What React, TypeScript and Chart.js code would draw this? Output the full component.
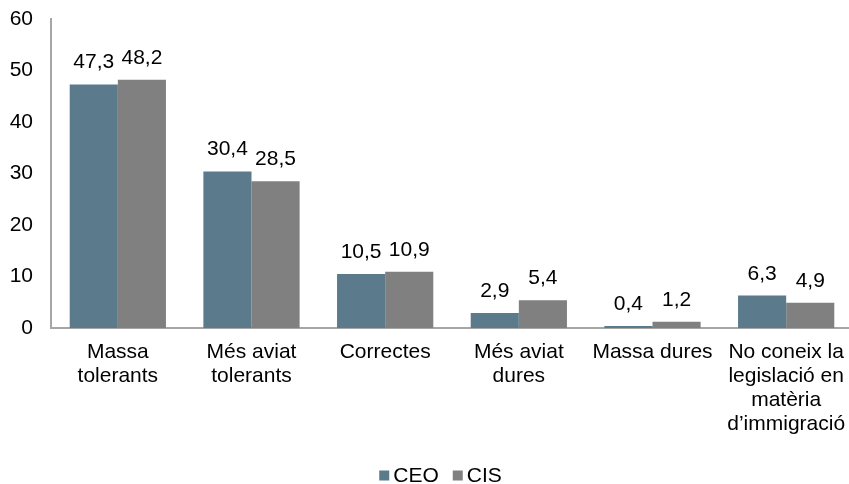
import React, { useEffect, useRef } from "react";
import { Chart, registerables } from "chart.js";

Chart.register(...registerables);

const categories: string[][] = [
  ["Massa", "tolerants"],
  ["Més aviat", "tolerants"],
  ["Correctes"],
  ["Més aviat", "dures"],
  ["Massa dures"],
  ["No coneix la", "legislació en", "matèria", "d’immigració"],
];
const ceoValues = [47.3, 30.4, 10.5, 2.9, 0.4, 6.3];
const cisValues = [48.2, 28.5, 10.9, 5.4, 1.2, 4.9];
const seriesNames = ["CEO", "CIS"];
const seriesColors = ["#5B7B8D", "#808080"];
const yTicks = { min: 0, max: 60, step: 10 };

const FONT = "'Liberation Sans', Arial, sans-serif";
const FS = 21;

const valueLabels = {
  id: "valueLabels",
  afterDatasetsDraw(chart: any) {
    const ctx = chart.ctx;
    ctx.save();
    ctx.font = `${FS}px ${FONT}`;
    ctx.fillStyle = "#000";
    ctx.textAlign = "center";
    ctx.textBaseline = "alphabetic";
    chart.data.datasets.forEach((ds: any, i: number) => {
      const meta = chart.getDatasetMeta(i);
      meta.data.forEach((bar: any, j: number) => {
        const v = ds.data[j] as number;
        ctx.fillText(v.toFixed(1).replace(".", ","), bar.x, bar.y - 16);
      });
    });
    ctx.restore();
  },
};

const customLegend = {
  id: "customLegend",
  afterDraw(chart: any) {
    const ctx = chart.ctx;
    ctx.save();
    ctx.font = `${FS}px ${FONT}`;
    ctx.textBaseline = "middle";
    ctx.textAlign = "left";
    const cy = 475.5;
    const gapBoxText = 4;
    const gapItems = 14;
    const box = 10;
    const items = chart.data.datasets.map((ds: any) => ({
      text: ds.label as string,
      color: ds.backgroundColor as string,
      w: ctx.measureText(ds.label).width,
    }));
    const total =
      items.reduce((a: number, it: any) => a + box + gapBoxText + it.w, 0) +
      gapItems * (items.length - 1);
    let x = 440.5 - total / 2;
    items.forEach((it: any) => {
      ctx.fillStyle = it.color;
      ctx.fillRect(x, cy - box / 2, box, box);
      x += box + gapBoxText;
      ctx.fillStyle = "#000";
      ctx.fillText(it.text, x, cy + 1);
      x += it.w + gapItems;
    });
    ctx.restore();
  },
};

export default function App() {
  const ref = useRef<HTMLCanvasElement>(null);
  useEffect(() => {
    if (!ref.current) return;
    const chart = new Chart(ref.current, {
      type: "bar",
      data: {
        labels: categories,
        datasets: [
          { label: seriesNames[0], data: ceoValues, backgroundColor: seriesColors[0] },
          { label: seriesNames[1], data: cisValues, backgroundColor: seriesColors[1] },
        ],
      },
      options: {
        animation: false,
        responsive: false,
        layout: { padding: { top: 19, right: 0, left: 0, bottom: 0 } },
        datasets: { bar: { categoryPercentage: 0.72, barPercentage: 1 } },
        scales: {
          x: {
            grid: { display: false, drawTicks: false },
            border: { display: true, color: "#A6A6A6", width: 2 },
            ticks: {
              color: "#000",
              font: { family: FONT, size: FS, lineHeight: 24 / FS },
              padding: 12,
              maxRotation: 0,
              autoSkip: false,
            },
            afterFit: (s: any) => {
              s.height = 156;
              s.paddingLeft = 0;
              s.paddingRight = 0;
            },
          },
          y: {
            min: yTicks.min,
            max: yTicks.max,
            grid: { display: false, drawTicks: false },
            border: { display: true, color: "#A6A6A6", width: 2 },
            ticks: {
              stepSize: yTicks.step,
              color: "#000",
              font: { family: FONT, size: FS },
              padding: 18,
            },
            afterFit: (s: any) => {
              s.width = 51;
              s.paddingTop = 0;
              s.paddingBottom = 0;
            },
          },
        },
        plugins: {
          legend: { display: false },
          tooltip: { enabled: false },
        },
      },
      plugins: [valueLabels, customLegend],
    });
    return () => chart.destroy();
  }, []);
  return (
    <div
      style={{
        position: "fixed",
        left: 0,
        top: 0,
        width: 849,
        height: 484,
        overflow: "hidden",
        background: "#fff",
      }}
    >
      <canvas ref={ref} width={853} height={484} style={{ display: "block" }} />
    </div>
  );
}
